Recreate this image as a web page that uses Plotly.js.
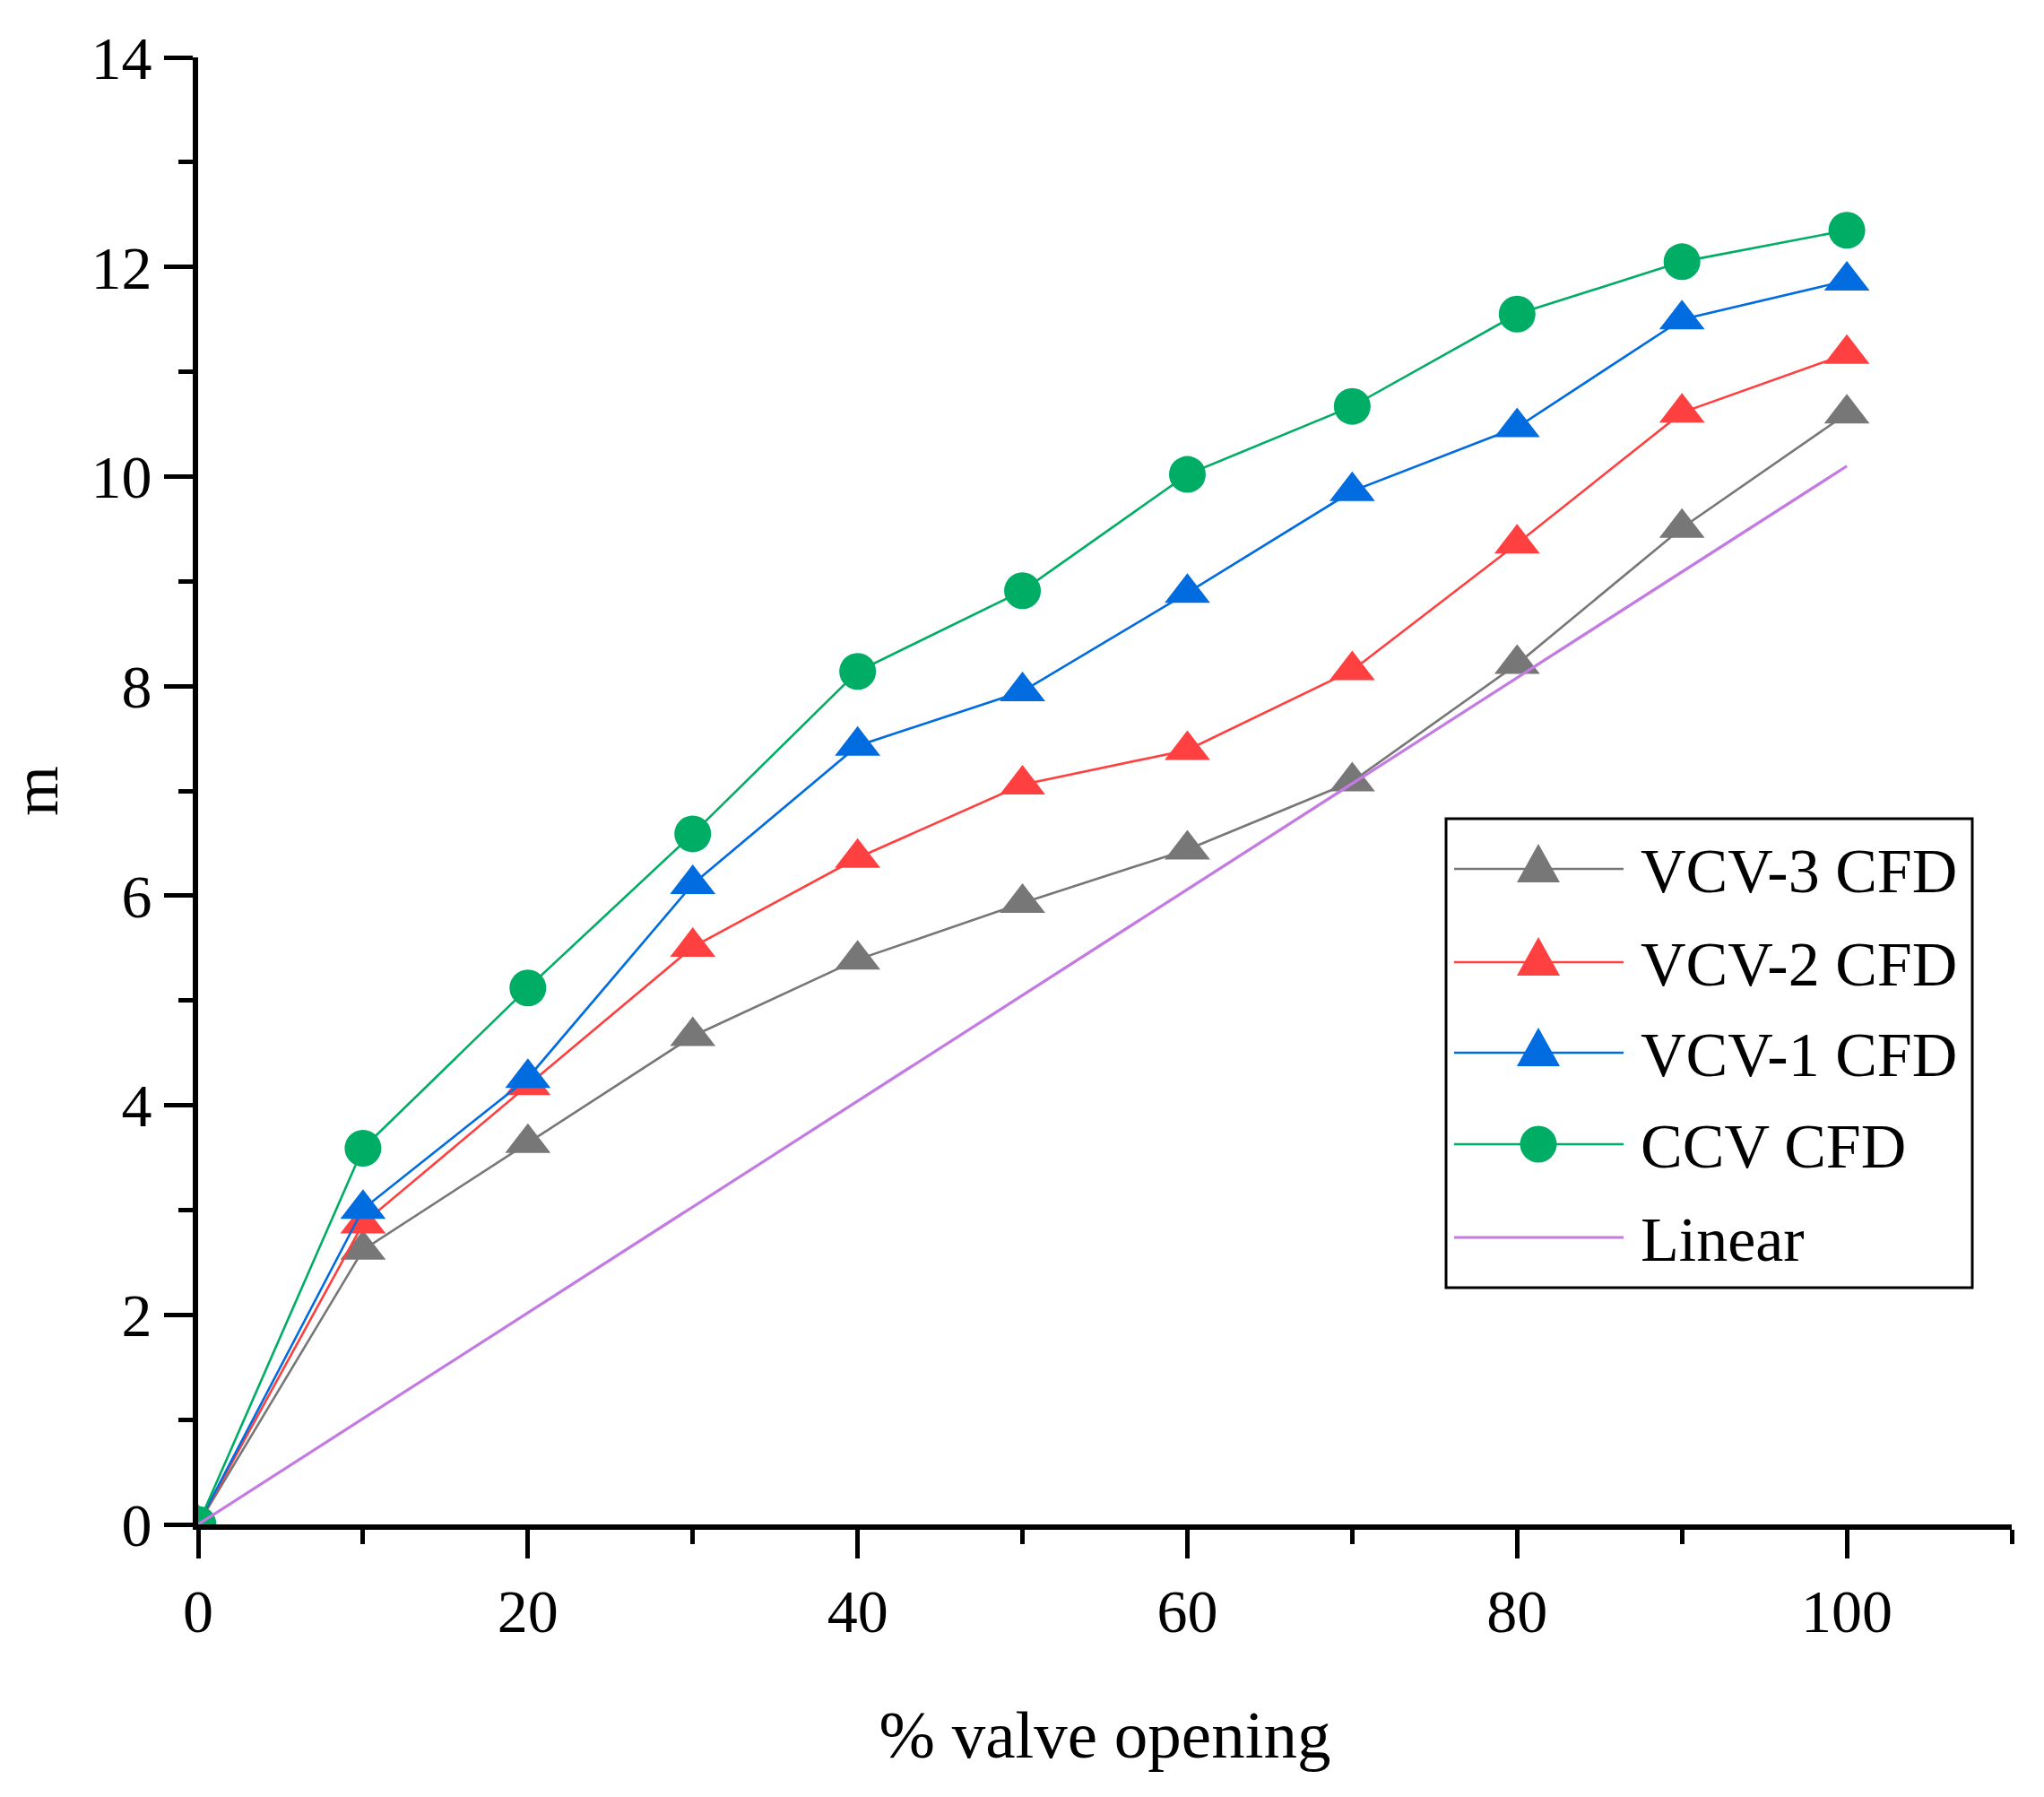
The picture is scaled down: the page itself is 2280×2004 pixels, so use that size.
<!DOCTYPE html>
<html>
<head>
<meta charset="utf-8">
<script src="https://cdn.plot.ly/plotly-3.0.1.min.js"></script>
<style>
  html, body { margin: 0; padding: 0; background: #ffffff; }
  #chart { width: 2280px; height: 2004px; }
</style>
</head>
<body>
<div id="chart"></div>
<script>
// ---- data ----
const valveOpening = [0, 10, 20, 30, 40, 50, 60, 70, 80, 90, 100];
const vcv3CFD = [0, 2.62, 3.64, 4.66, 5.39, 5.93, 6.44, 7.09, 8.21, 9.51, 10.60];
const vcv2CFD = [0, 2.87, 4.19, 5.51, 6.36, 7.06, 7.39, 8.15, 9.36, 10.61, 11.17];
const vcv1CFD = [0, 3.01, 4.26, 6.11, 7.43, 7.95, 8.89, 9.86, 10.47, 11.50, 11.87];
const ccvCFD  = [0, 3.59, 5.12, 6.59, 8.14, 8.91, 10.02, 10.67, 11.55, 12.05, 12.35];
const linearX = [0, 100];
const linearY = [0, 10.1];

const seriesNames = ['VCV-3 CFD', 'VCV-2 CFD', 'VCV-1 CFD', 'CCV CFD', 'Linear'];
const xTickVals = [0, 20, 40, 60, 80, 100];
const yTickVals = [0, 2, 4, 6, 8, 10, 12, 14];

// ---- styles ----
const colors = ['#777777', '#FF4040', '#006CE0', '#00AD65', '#C47AE3'];
const symbols = ['triangle-up', 'triangle-up', 'triangle-up', 'circle', null];
const FONT = '"Liberation Serif", "Times New Roman", serif';

function seriesTrace(x, y, i) {
  const t = {
    type: 'scatter',
    x: x, y: y,
    name: seriesNames[i],
    showlegend: false,
    line: { color: colors[i], width: symbols[i] ? 2.6 : 3.2 },
  };
  if (symbols[i]) {
    t.mode = 'lines+markers';
    t.marker = { symbol: symbols[i], size: symbols[i] === 'circle' ? 41 : 44,
                 color: colors[i], line: { width: 0 } };
  } else {
    t.mode = 'lines';
  }
  return t;
}

const traces = [
  seriesTrace(valveOpening, vcv3CFD, 0),
  seriesTrace(valveOpening, vcv2CFD, 1),
  seriesTrace(valveOpening, vcv1CFD, 2),
  seriesTrace(valveOpening, ccvCFD, 3),
  seriesTrace(linearX, linearY, 4),
];

// ---- plot geometry (pixels) ----
const W = 2280, H = 2004;
const M = { l: 221, r: 36, t: 64, b: 304 };
const PW = W - M.l - M.r, PH = H - M.t - M.b;
const px = X => (X - M.l) / PW;          // pixel x -> paper x
const py = Y => (H - M.b - Y) / PH;      // pixel y -> paper y

// ---- custom legend (box, line samples, symbols, labels) ----
const shapes = [];
const annotations = [];
const box = { x0: 1613, x1: 2200, y0: 913, y1: 1436 };
shapes.push({ type: 'rect', xref: 'paper', yref: 'paper', layer: 'above',
  x0: px(box.x0), x1: px(box.x1), y0: py(box.y1), y1: py(box.y0),
  line: { color: '#000000', width: 3 }, fillcolor: '#ffffff' });
const rowY = [969, 1073, 1174, 1276, 1380];
const lineX0 = 1622, lineX1 = 1811, symX = 1716, textX = 1828;
seriesNames.forEach((name, i) => {
  const yy = rowY[i];
  shapes.push({ type: 'line', xref: 'paper', yref: 'paper', layer: 'above',
    x0: px(lineX0), x1: px(lineX1), y0: py(yy), y1: py(yy),
    line: { color: colors[i], width: symbols[i] ? 2.6 : 3.2 } });
  if (symbols[i] === 'triangle-up') {
    const hw = 24, top = yy - 28, bot = yy + 15;
    shapes.push({ type: 'path', xref: 'paper', yref: 'paper', layer: 'above',
      path: 'M ' + px(symX - hw) + ' ' + py(bot) + ' L ' + px(symX + hw) + ' ' + py(bot) +
            ' L ' + px(symX) + ' ' + py(top) + ' Z',
      fillcolor: colors[i], line: { width: 0 } });
  } else if (symbols[i] === 'circle') {
    const r = 20.5;
    shapes.push({ type: 'circle', xref: 'paper', yref: 'paper', layer: 'above',
      x0: px(symX - r), x1: px(symX + r), y0: py(yy + r), y1: py(yy - r),
      fillcolor: colors[i], line: { width: 0 } });
  }
  annotations.push({ xref: 'paper', yref: 'paper', x: px(textX), y: py(yy + 2),
    xanchor: 'left', yanchor: 'middle', showarrow: false, text: name,
    font: { family: FONT, size: 70, color: '#000000' } });
});

const axisCommon = {
  showgrid: false, zeroline: false, showline: true,
  linecolor: '#000000', linewidth: 6,
  ticks: 'outside', ticklen: 32, tickwidth: 5, tickcolor: '#000000',
  tickfont: { family: FONT, size: 68, color: '#000000' },
  mirror: false, fixedrange: true,
};

const layout = {
  width: W, height: H,
  margin: M,
  paper_bgcolor: '#ffffff', plot_bgcolor: '#ffffff',
  font: { family: FONT, color: '#000000' },
  showlegend: false,
  xaxis: Object.assign({}, axisCommon, {
    range: [0, 110], tickmode: 'array', tickvals: xTickVals,
    minor: { dtick: 10, tick0: 0, ticks: 'outside', ticklen: 16, tickwidth: 5, tickcolor: '#000000' },
    title: { text: '% valve opening', font: { family: FONT, size: 75, color: '#000000' }, standoff: 76 },
    automargin: false,
  }),
  yaxis: Object.assign({}, axisCommon, {
    range: [0, 14], tickmode: 'array', tickvals: yTickVals,
    minor: { dtick: 1, tick0: 0, ticks: 'outside', ticklen: 16, tickwidth: 5, tickcolor: '#000000' },
    title: { text: 'm', font: { family: FONT, size: 72, color: '#000000' }, standoff: 30 },
    automargin: false,
  }),
  shapes: shapes,
  annotations: annotations,
};

Plotly.newPlot('chart', traces, layout, { staticPlot: true, displayModeBar: false });
</script>
</body>
</html>
